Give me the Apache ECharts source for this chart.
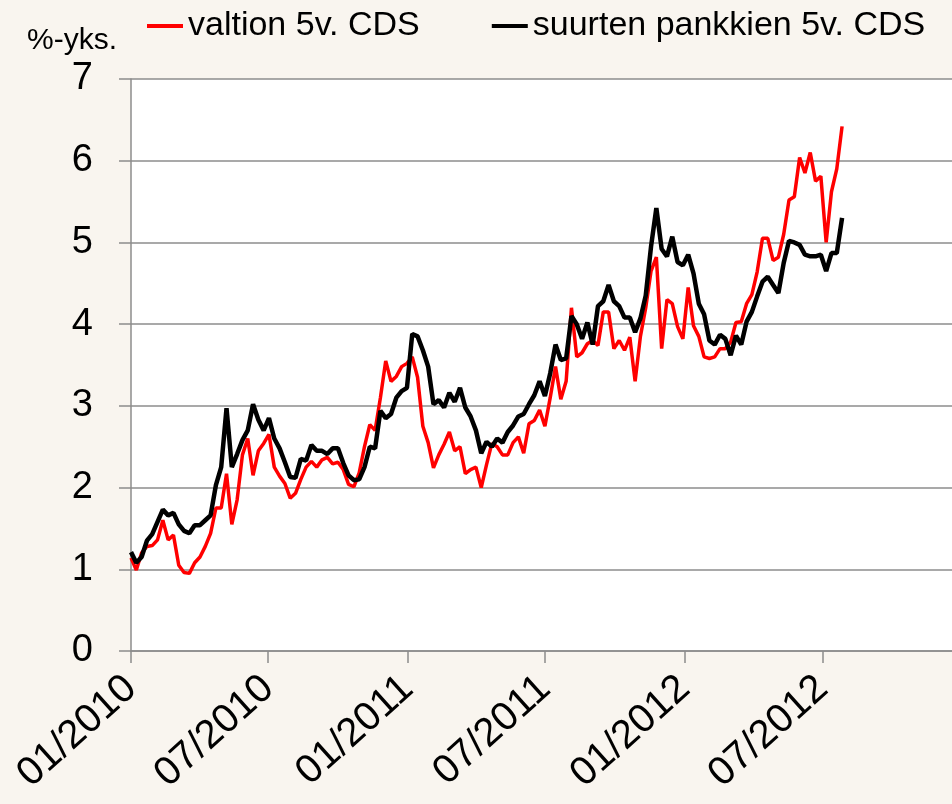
<!DOCTYPE html>
<html lang="fi">
<head>
    <meta charset="UTF-8">
    <title>Valtion ja pankkien 5v. CDS</title>
    <script src="https://cdn.jsdelivr.net/npm/echarts@6/dist/echarts.min.js"></script>
    <style>
        html, body { margin: 0; padding: 0; background: #f9f5ef; }
    </style>
</head>
<body>

<div id="main" style="width: 952px;height:804px;"></div>

<script type="text/javascript">
    // viikoittaiset havainnot (perjantait)
    var weeks = [
        '2010-01-01','2010-01-08','2010-01-15','2010-01-22','2010-01-29','2010-02-05','2010-02-12','2010-02-19','2010-02-26','2010-03-05',
        '2010-03-12','2010-03-19','2010-03-26','2010-04-02','2010-04-09','2010-04-16','2010-04-23','2010-04-30','2010-05-07','2010-05-14',
        '2010-05-21','2010-05-28','2010-06-04','2010-06-11','2010-06-18','2010-06-25','2010-07-02','2010-07-09','2010-07-16','2010-07-23',
        '2010-07-30','2010-08-06','2010-08-13','2010-08-20','2010-08-27','2010-09-03','2010-09-10','2010-09-17','2010-09-24','2010-10-01',
        '2010-10-08','2010-10-15','2010-10-22','2010-10-29','2010-11-05','2010-11-12','2010-11-19','2010-11-26','2010-12-03','2010-12-10',
        '2010-12-17','2010-12-24','2010-12-31','2011-01-07','2011-01-14','2011-01-21','2011-01-28','2011-02-04','2011-02-11','2011-02-18',
        '2011-02-25','2011-03-04','2011-03-11','2011-03-18','2011-03-25','2011-04-01','2011-04-08','2011-04-15','2011-04-22','2011-04-29',
        '2011-05-06','2011-05-13','2011-05-20','2011-05-27','2011-06-03','2011-06-10','2011-06-17','2011-06-24','2011-07-01','2011-07-08',
        '2011-07-15','2011-07-22','2011-07-29','2011-08-05','2011-08-12','2011-08-19','2011-08-26','2011-09-02','2011-09-09','2011-09-16',
        '2011-09-23','2011-09-30','2011-10-07','2011-10-14','2011-10-21','2011-10-28','2011-11-04','2011-11-11','2011-11-18','2011-11-25',
        '2011-12-02','2011-12-09','2011-12-16','2011-12-23','2011-12-30','2012-01-06','2012-01-13','2012-01-20','2012-01-27','2012-02-03',
        '2012-02-10','2012-02-17','2012-02-24','2012-03-02','2012-03-09','2012-03-16','2012-03-23','2012-03-30','2012-04-06','2012-04-13',
        '2012-04-20','2012-04-27','2012-05-04','2012-05-11','2012-05-18','2012-05-25','2012-06-01','2012-06-08','2012-06-15','2012-06-22',
        '2012-06-29','2012-07-06','2012-07-13','2012-07-20','2012-07-27'
    ];

    // valtion 5v. CDS, %-yks.
    var valtio = [
        1.14,0.99,1.20,1.28,1.29,1.36,1.60,1.36,1.42,1.05,
        0.96,0.95,1.08,1.15,1.28,1.44,1.75,1.75,2.17,1.55,
        1.85,2.40,2.60,2.15,2.45,2.54,2.65,2.25,2.14,2.05,
        1.87,1.93,2.10,2.25,2.32,2.25,2.34,2.37,2.29,2.31,
        2.22,2.04,2.01,2.18,2.50,2.77,2.70,3.10,3.55,3.30,
        3.36,3.48,3.52,3.60,3.35,2.75,2.55,2.24,2.40,2.53,
        2.68,2.45,2.50,2.17,2.22,2.25,2.00,2.28,2.54,2.50,
        2.40,2.40,2.55,2.62,2.42,2.78,2.82,2.95,2.75,3.10,
        3.48,3.08,3.30,4.20,3.60,3.65,3.76,3.80,3.74,4.15,
        4.15,3.70,3.80,3.68,3.84,3.30,3.85,4.20,4.65,4.82,
        3.70,4.30,4.25,3.97,3.82,4.45,3.98,3.85,3.60,3.58,
        3.60,3.70,3.70,3.78,4.02,4.03,4.25,4.36,4.64,5.05,
        5.05,4.78,4.82,5.10,5.52,5.56,6.04,5.85,6.10,5.75,
        5.81,5.00,5.62,5.90,6.42
    ];

    // suurten pankkien 5v. CDS, %-yks.
    var pankit = [
        1.21,1.08,1.15,1.35,1.43,1.58,1.73,1.66,1.69,1.55,
        1.47,1.44,1.54,1.54,1.60,1.66,2.03,2.25,2.97,2.25,
        2.41,2.58,2.70,3.02,2.83,2.70,2.85,2.60,2.48,2.31,
        2.13,2.12,2.35,2.33,2.52,2.45,2.45,2.41,2.48,2.48,
        2.30,2.15,2.09,2.10,2.25,2.50,2.48,2.94,2.85,2.90,
        3.10,3.18,3.22,3.88,3.85,3.68,3.48,3.02,3.07,2.98,
        3.16,3.05,3.22,2.98,2.87,2.70,2.42,2.56,2.50,2.60,
        2.55,2.68,2.76,2.87,2.90,3.02,3.13,3.30,3.12,3.40,
        3.75,3.56,3.58,4.10,4.00,3.82,4.02,3.75,4.22,4.28,
        4.48,4.28,4.22,4.08,4.08,3.90,4.07,4.35,4.95,5.42,
        4.92,4.83,5.07,4.76,4.72,4.85,4.62,4.25,4.12,3.80,
        3.75,3.87,3.82,3.62,3.86,3.75,4.03,4.15,4.34,4.52,
        4.58,4.48,4.38,4.75,5.02,5.00,4.97,4.85,4.83,4.83,
        4.85,4.65,4.87,4.87,5.30
    ];

    // akselin merkit 1.1. ja 1.7.
    var tickMonths = ['2010-01-01','2010-07-01','2011-01-01','2011-07-01','2012-01-01','2012-07-01'];

    function toTime(s) {
        var p = s.split('-');
        return Date.UTC(+p[0], +p[1] - 1, +p[2]);
    }

    function pairs(values) {
        return weeks.map(function (d, i) {
            return [toTime(d), values[i]];
        });
    }

    var tickValues = tickMonths.map(toTime);
    var font = 'Liberation Sans, Arial, sans-serif';

    var myChart = echarts.init(document.getElementById('main'));

    var option = {
        backgroundColor: '#f9f5ef',
        animation: false,
        textStyle: { fontFamily: font },
        grid: {
            left: 131,
            right: 0,
            top: 79,
            bottom: 153,
            show: true,
            backgroundColor: '#ffffff',
            borderWidth: 0
        },
        legend: {
            left: 142,
            top: 4,
            itemGap: 72,
            itemWidth: 36,
            itemHeight: 4,
            icon: 'rect',
            textStyle: { fontSize: 34, color: '#000', fontFamily: font },
            data: ['valtion 5v. CDS', 'suurten pankkien 5v. CDS']
        },
        graphic: [{
            type: 'text',
            left: 27,
            top: 26,
            style: { text: '%-yks.', fontSize: 30, fill: '#000', fontFamily: font }
        }],
        xAxis: {
            type: 'value',
            min: toTime('2010-01-01'),
            max: toTime('2012-12-19'),
            axisLine: { lineStyle: { color: '#8c8c8c', width: 1.5 } },
            axisTick: {
                show: true,
                length: 12,
                customValues: tickValues,
                lineStyle: { color: '#8c8c8c', width: 1.5 }
            },
            axisLabel: {
                customValues: tickValues,
                rotate: 42,
                margin: 32,
                fontSize: 40,
                color: '#000',
                fontFamily: font,
                formatter: function (v) {
                    var d = new Date(v);
                    var m = d.getUTCMonth() + 1;
                    return (m < 10 ? '0' + m : m) + '/' + d.getUTCFullYear();
                }
            },
            splitLine: { show: false }
        },
        yAxis: {
            type: 'value',
            min: 0,
            max: 7,
            interval: 1,
            axisLine: { show: true, lineStyle: { color: '#8c8c8c', width: 1.5 } },
            axisTick: { show: true, length: 12, lineStyle: { color: '#8c8c8c', width: 1.5 } },
            axisLabel: { fontSize: 38, color: '#000', margin: 38, fontFamily: font },
            splitLine: { lineStyle: { color: '#8c8c8c', width: 1.5 } }
        },
        series: [{
            name: 'valtion 5v. CDS',
            type: 'line',
            data: pairs(valtio),
            showSymbol: false,
            color: '#ff0000',
            lineStyle: { width: 3.5, color: '#ff0000' }
        }, {
            name: 'suurten pankkien 5v. CDS',
            type: 'line',
            data: pairs(pankit),
            showSymbol: false,
            color: '#000000',
            lineStyle: { width: 4.5, color: '#000000' }
        }]
    };

    myChart.setOption(option);
</script>
</body>
</html>
